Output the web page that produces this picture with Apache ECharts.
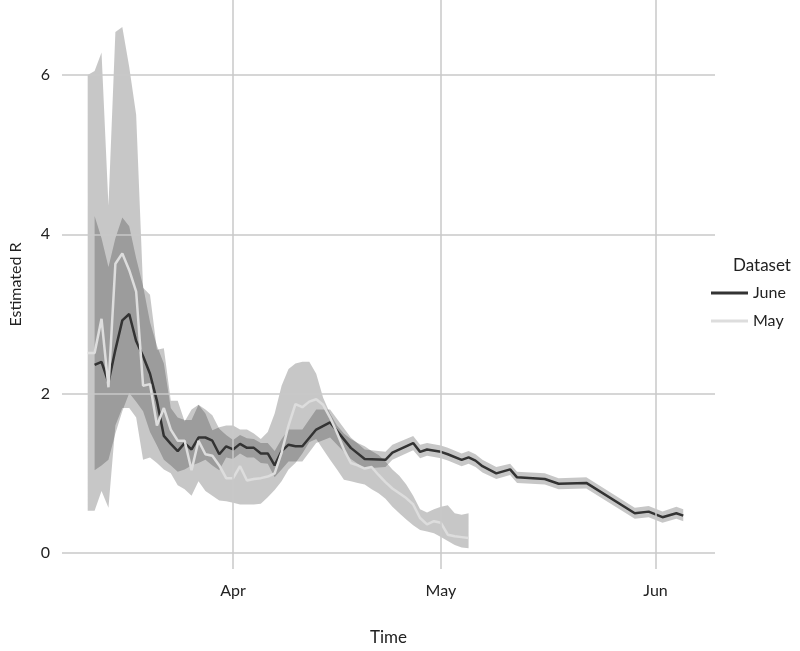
<!DOCTYPE html>
<html><head><meta charset="utf-8">
<script src="https://cdn.jsdelivr.net/npm/echarts@6/dist/echarts.min.js"></script>
<style>html,body{margin:0;padding:0;background:#fff}#c{width:800px;height:651px}</style>
</head><body><div id="c"></div>
<script>
const juneDates = ['03-12','03-13','03-14','03-15','03-16','03-17','03-18','03-19','03-20','03-21','03-22','03-23','03-24','03-25','03-26','03-27','03-28','03-29','03-30','03-31','04-01','04-02','04-03','04-04','04-05','04-06','04-07','04-08','04-09','04-10','04-11','04-13','04-15','04-18','04-20','04-23','04-24','04-27','04-28','04-29','05-01','05-02','05-04','05-05','05-06','05-07','05-09','05-11','05-12','05-16','05-18','05-22','05-29','05-31','06-02','06-04','06-05'];
const juneMid = [2.36,2.40,2.14,2.55,2.92,3.00,2.66,2.47,2.25,1.91,1.47,1.37,1.28,1.38,1.30,1.45,1.45,1.41,1.24,1.34,1.30,1.37,1.32,1.32,1.25,1.25,1.10,1.28,1.36,1.34,1.34,1.55,1.64,1.32,1.18,1.17,1.26,1.38,1.27,1.30,1.27,1.24,1.17,1.20,1.16,1.09,1.00,1.05,0.95,0.93,0.87,0.88,0.50,0.52,0.45,0.50,0.47];
const juneUpper = [4.23,3.95,3.59,3.95,4.21,4.10,3.70,3.35,2.90,2.60,2.38,1.82,1.70,1.67,1.67,1.86,1.80,1.73,1.56,1.48,1.42,1.48,1.44,1.43,1.38,1.38,1.28,1.43,1.55,1.55,1.55,1.80,1.80,1.45,1.30,1.27,1.36,1.47,1.36,1.38,1.35,1.32,1.25,1.28,1.24,1.17,1.08,1.12,1.02,1.00,0.94,0.95,0.57,0.59,0.52,0.58,0.55];
const juneLower = [1.04,1.10,1.17,1.50,1.78,2.01,1.90,1.78,1.52,1.35,1.17,1.10,1.02,1.05,1.10,1.13,1.17,1.10,1.04,1.20,1.18,1.25,1.20,1.20,1.13,1.12,0.95,1.05,1.15,1.15,1.15,1.38,1.45,1.18,1.06,1.08,1.17,1.29,1.19,1.22,1.19,1.16,1.09,1.12,1.08,1.01,0.93,0.98,0.88,0.86,0.80,0.81,0.43,0.45,0.38,0.43,0.40];
const mayDates = ['03-11','03-12','03-13','03-14','03-15','03-16','03-17','03-18','03-19','03-20','03-21','03-22','03-23','03-24','03-25','03-26','03-27','03-28','03-29','03-30','03-31','04-01','04-02','04-03','04-04','04-05','04-06','04-07','04-08','04-09','04-10','04-11','04-12','04-13','04-14','04-15','04-16','04-17','04-18','04-19','04-20','04-21','04-22','04-23','04-24','04-25','04-26','04-27','04-28','04-29','04-30','05-01','05-02','05-03','05-04','05-05'];
const mayMid = [2.51,2.51,2.94,2.08,3.63,3.76,3.55,3.28,2.10,2.12,1.60,1.82,1.55,1.41,1.41,1.04,1.41,1.24,1.22,1.10,0.94,0.94,1.09,0.91,0.93,0.94,0.96,1.00,1.26,1.60,1.87,1.83,1.90,1.93,1.86,1.70,1.51,1.30,1.13,1.10,1.06,1.08,0.98,0.89,0.81,0.75,0.69,0.61,0.44,0.36,0.40,0.38,0.23,0.21,0.20,0.19];
const mayUpper = [6.00,6.05,6.28,4.36,6.54,6.60,6.10,5.50,3.33,3.24,2.55,2.57,1.91,1.91,1.65,1.80,1.86,1.75,1.54,1.58,1.60,1.60,1.55,1.55,1.50,1.43,1.52,1.75,2.10,2.31,2.38,2.40,2.40,2.25,1.95,1.75,1.60,1.50,1.43,1.38,1.34,1.28,1.23,1.15,1.05,0.97,0.86,0.72,0.55,0.51,0.55,0.58,0.60,0.50,0.48,0.50];
const mayLower = [0.53,0.53,0.78,0.57,1.60,1.82,1.82,1.70,1.17,1.20,1.13,1.05,1.00,0.85,0.80,0.72,0.90,0.78,0.72,0.66,0.65,0.63,0.61,0.61,0.61,0.62,0.70,0.79,0.90,1.05,1.13,1.25,1.39,1.43,1.30,1.17,1.05,0.92,0.90,0.88,0.86,0.80,0.75,0.68,0.58,0.50,0.42,0.35,0.29,0.27,0.25,0.20,0.15,0.10,0.07,0.06];
const xTicks = ['04-01','05-01','06-01'];
const xTickLabels = ['Apr','May','Jun'];
const yTicks = [0,2,4,6];

const T = s => Date.UTC(2020, +s.slice(0,2)-1, +s.slice(3,5));
const pairs = (d, v) => d.map((s,i)=>[T(s), v[i]]);
const labelMap = {}; xTicks.forEach((s,i)=>labelMap[T(s)] = xTickLabels[i]);
const xmin = T('03-07') + 7*3600e3, xmax = T('06-09') + 14*3600e3;
const GRID = '#c8c8c8';

function band(dates, up, lo, color) {
  return {
    type:'custom', silent:true, z:1,
    data: dates.map((s,i)=>[T(s), up[i], lo[i]]),
    encode:{x:0, y:[1,2]},
    renderItem(params, api) {
      if (params.dataIndex !== 0) return;
      const pts = [];
      for (let i=0;i<dates.length;i++) pts.push(api.coord([T(dates[i]), up[i]]));
      for (let i=dates.length-1;i>=0;i--) pts.push(api.coord([T(dates[i]), lo[i]]));
      return {type:'polygon', shape:{points:pts}, style:{fill:color}};
    }
  };
}

const chart = echarts.init(document.getElementById('c'));
chart.setOption({
  animation:false,
  textStyle:{fontFamily:'Lato'},
  grid:{left:55, right:85, top:0, bottom:81},
  title:{text:'Dataset', left:728, top:252, textStyle:{fontSize:17, fontWeight:'normal', color:'#222', fontFamily:'Lato'}},
  legend:{orient:'vertical', left:706, top:280, itemWidth:37, itemHeight:3, itemGap:12, icon:'rect',
    textStyle:{fontSize:16, color:'#222', fontFamily:'Lato'}, data:['June','May']},
  xAxis:{type:'value', min:xmin, max:xmax, name:'Time', nameLocation:'middle', nameGap:60,
    nameTextStyle:{fontSize:17, color:'#222'},
    axisLine:{show:false}, axisTick:{show:false}, splitLine:{show:false},
    axisLabel:{customValues:xTicks.map(T), formatter:v=>labelMap[v]||'', fontSize:16, color:'#222', margin:14}},
  yAxis:{type:'value', min:-0.2, max:6.94, name:'Estimated R', nameLocation:'middle', nameGap:38,
    nameTextStyle:{fontSize:16, color:'#222'},
    axisLine:{show:false}, axisTick:{show:false}, splitLine:{show:false},
    axisLabel:{customValues:yTicks, fontSize:16, color:'#222', margin:12}},
  series:[
    {type:'line', silent:true, data:[], symbol:'none', z:0,
      markLine:{silent:true, symbol:'none', label:{show:false}, lineStyle:{color:GRID, type:'solid', width:1.5},
        data: xTicks.map(s=>({xAxis:T(s)})).concat(yTicks.map(v=>({yAxis:v})))}},
    band(juneDates, juneUpper, juneLower, 'rgba(0,0,0,0.22)'),
    band(mayDates, mayUpper, mayLower, 'rgba(0,0,0,0.22)'),
    {name:'June', type:'line', data:pairs(juneDates, juneMid), symbol:'none', z:3,
      color:'#333', lineStyle:{color:'#333', width:2.5}},
    {name:'May', type:'line', data:pairs(mayDates, mayMid), symbol:'none', z:3,
      color:'#dddddd', lineStyle:{color:'#dddddd', width:2.5}}
  ]
});
</script></body></html>
